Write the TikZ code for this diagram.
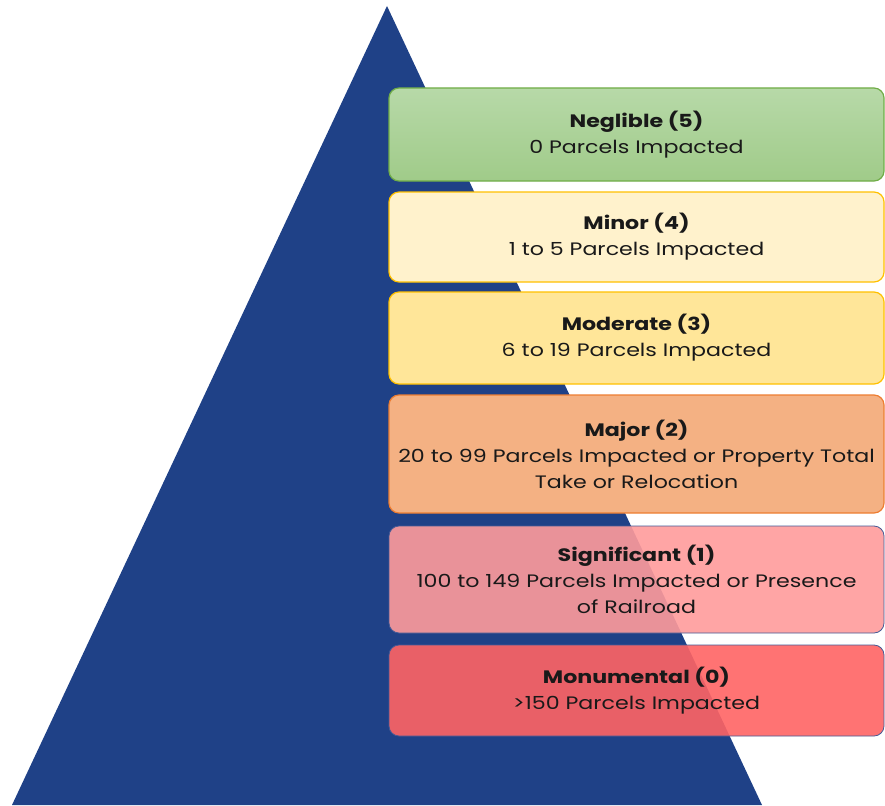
\documentclass[tikz,border=0pt]{standalone}
\usepackage{fontspec}
\setmainfont{Poppins}[FakeStretch=1.23]
\definecolor{triblue}{RGB}{31,65,135}
\definecolor{gtop}{RGB}{183,217,168}
\definecolor{gbot}{RGB}{160,203,137}
\definecolor{gborder}{RGB}{112,173,71}
\definecolor{minorfill}{RGB}{255,242,204}
\definecolor{modfill}{RGB}{255,230,153}
\definecolor{yborder}{RGB}{255,192,0}
\definecolor{majfill}{RGB}{244,177,131}
\definecolor{oborder}{RGB}{237,125,49}
\definecolor{sigfill}{RGB}{255,155,155}
\definecolor{monfill}{RGB}{255,100,100}
\definecolor{bborder}{RGB}{68,90,150}
\definecolor{txt}{RGB}{25,25,25}
\begin{document}
\begin{tikzpicture}[x=1pt,y=-1pt,
  lvl/.style={draw, line width=1.2pt, rounded corners=10pt, minimum width=495pt,
    align=center, text=txt, font=\fontsize{18}{26}\selectfont, inner sep=0pt, text opacity=1},
]
\useasboundingbox (0,0) rectangle (885,805);
\fill[triblue] (387,6) -- (12,805) -- (762,805) -- cycle;
\node[lvl, draw=gborder, top color=gtop, bottom color=gbot, minimum height=93pt] (neg) at (636.5,134.5)
  {\textbf{Neglible (5)}\\0 Parcels Impacted};
\node[lvl, draw=yborder, fill=minorfill, minimum height=90pt] (minor) at (636.5,237)
  {\textbf{Minor (4)}\\1 to 5 Parcels Impacted};
\node[lvl, draw=yborder, fill=modfill, minimum height=92pt] (mod) at (636.5,338)
  {\textbf{Moderate (3)}\\6 to 19 Parcels Impacted};
\node[lvl, draw=oborder, fill=majfill, minimum height=118pt] (maj) at (636.5,454)
  {\textbf{Major (2)}\\20 to 99 Parcels Impacted or Property Total\\Take or Relocation};
\node[lvl, draw=bborder, line width=0.8pt, fill=sigfill, fill opacity=0.9, minimum height=107pt] (sig) at (636.5,579.5)
  {\textbf{Significant (1)}\\100 to 149 Parcels Impacted or Presence\\of Railroad};
\node[lvl, draw=bborder, line width=0.8pt, fill=monfill, fill opacity=0.9, minimum height=91pt] (mon) at (636.5,690.5)
  {\textbf{Monumental (0)}\\>150 Parcels Impacted};
\end{tikzpicture}
\end{document}
